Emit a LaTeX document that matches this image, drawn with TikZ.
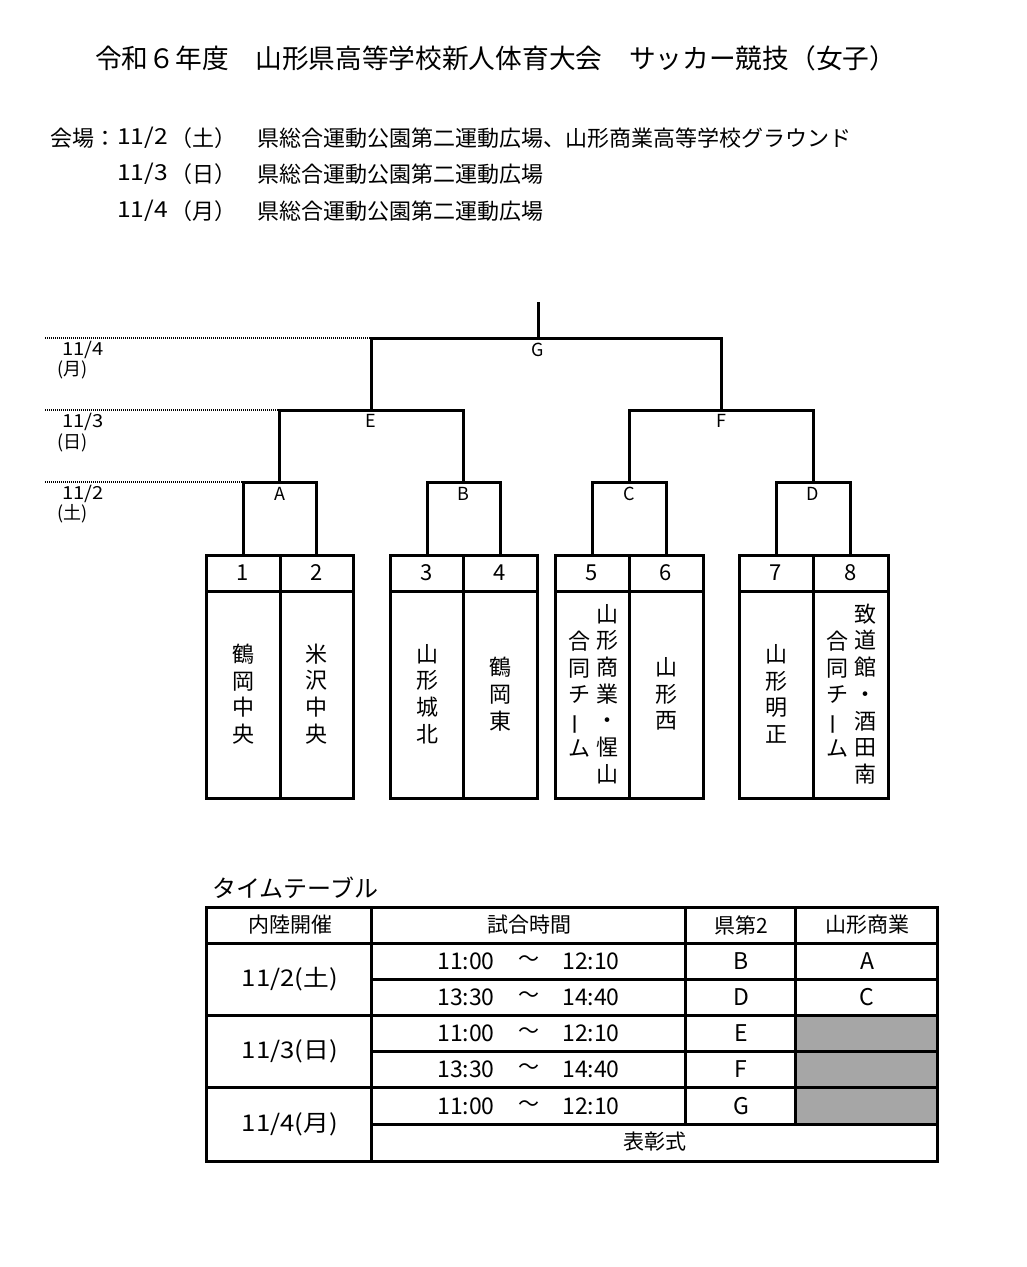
\documentclass[tikz,border=0pt]{standalone}
\usepackage{fontspec}
\usepackage{graphicx}
\setmainfont{Noto Sans CJK JP}
\definecolor{cellgray}{RGB}{166,166,166}
\newcommand{\vchoon}{\rotatebox[origin=c]{90}{ー}}
\newcommand{\wx}[1]{\scalebox{1.12}[1]{#1}}
\begin{document}
\begin{tikzpicture}[x=1pt,y=-1pt,
  br/.style={line width=3pt,line join=miter},
  dots/.style={line width=2pt,dash pattern=on 1pt off 1pt},
  tbl/.style={line width=3pt},
  lbl/.style={font=\fontsize{18}{18}\selectfont,inner sep=0},
  num/.style={font=\fontsize{22}{22}\selectfont,inner sep=0},
  vtext/.style={align=center,font=\fontsize{22}{26.7}\selectfont,inner sep=0},
  ttxt/.style={font=\fontsize{21}{21}\selectfont,inner sep=0},
  tdig/.style={font=\fontsize{23}{23}\selectfont,inner sep=0},
  head/.style={font=\fontsize{22}{22}\selectfont,inner sep=0,anchor=west},
]
\useasboundingbox[fill=white] (0,0) rectangle (1027,1267);

% title and venue
\node[anchor=west,inner sep=0,font=\fontsize{26.7}{26.7}\selectfont] (title) at (95,58) {令和６年度　山形県高等学校新人体育大会　サッカー競技（女子）};
\node[head] (v1a) at (50,138) {会場：};
\node[head] (v1d) at (117,138) {\wx{11/2}};
\node[head] (v1w) at (170,138) {（土）};
\node[head] (v1b) at (257,138) {県総合運動公園第二運動広場、山形商業高等学校グラウンド};
\node[head] (v2d) at (117,174) {\wx{11/3}};
\node[head] (v2w) at (170,174) {（日）};
\node[head] (v2b) at (257,174) {県総合運動公園第二運動広場};
\node[head] (v3d) at (117,211) {\wx{11/4}};
\node[head] (v3w) at (170,211) {（月）};
\node[head] (v3b) at (257,211) {県総合運動公園第二運動広場};

% bracket coordinates
\coordinate (top) at (538,302);
\coordinate (G) at (538,338);
\coordinate (Gl) at (371,338);
\coordinate (Gr) at (721,338);
\coordinate (E) at (371,410);
\coordinate (El) at (279,410);
\coordinate (Er) at (463,410);
\coordinate (F) at (721,410);
\coordinate (Fl) at (629,410);
\coordinate (Fr) at (813,410);
\coordinate (A) at (279,482);
\coordinate (Al) at (243,482);
\coordinate (Ar) at (316,482);
\coordinate (B) at (463,482);
\coordinate (Bl) at (427,482);
\coordinate (Br) at (500,482);
\coordinate (C) at (629,482);
\coordinate (Cl) at (592,482);
\coordinate (Cr) at (666,482);
\coordinate (D) at (813,482);
\coordinate (Dl) at (776,482);
\coordinate (Dr) at (850,482);
\coordinate (Alb) at (243,555);
\coordinate (Arb) at (316,555);
\coordinate (Blb) at (427,555);
\coordinate (Brb) at (500,555);
\coordinate (Clb) at (592,555);
\coordinate (Crb) at (666,555);
\coordinate (Dlb) at (776,555);
\coordinate (Drb) at (850,555);
\coordinate (dl4) at (45,338);
\coordinate (dl3) at (45,410);
\coordinate (dl2) at (45,482);

% dotted day lines
\draw[dots] (dl4) -- (Gl);
\draw[dots] (dl3) -- (El);
\draw[dots] (dl2) -- (Al);

% bracket lines
\draw[br] (top) -- (G);
\draw[br] (E) -- (Gl) -- (Gr) -- (F);
\draw[br] (A) -- (El) -- (Er) -- (B);
\draw[br] (C) -- (Fl) -- (Fr) -- (D);
\draw[br] (Alb) -- (Al) -- (Ar) -- (Arb);
\draw[br] (Blb) -- (Bl) -- (Br) -- (Brb);
\draw[br] (Clb) -- (Cl) -- (Cr) -- (Crb);
\draw[br] (Dlb) -- (Dl) -- (Dr) -- (Drb);

% match labels
\node[lbl] (mG) at (538,350) {G};
\node[lbl] (mE) at (371,421) {E};
\node[lbl] (mF) at (721,421) {F};
\node[lbl] (mA) at (280,494) {A};
\node[lbl] (mB) at (463,494) {B};
\node[lbl] (mC) at (629,494) {C};
\node[lbl] (mD) at (813,494) {D};

% day labels
\node[lbl,anchor=west] (d4a) at (62,350) {\wx{11/4}};
\node[lbl,anchor=west] (d4b) at (57,370) {(月)};
\node[lbl,anchor=west] (d3a) at (62,422) {\wx{11/3}};
\node[lbl,anchor=west] (d3b) at (57,443) {(日)};
\node[lbl,anchor=west] (d2a) at (62,494) {\wx{11/2}};
\node[lbl,anchor=west] (d2b) at (57,514) {(土)};

% team cells
\foreach \l/\r/\n in {206/280/1,280/353/2,390/463/3,463/537/4,555/629/5,629/703/6,739/813/7,813/888/8}{
  \draw[br] (\l,555) rectangle (\r,798);
  \draw[br] (\l,591) -- (\r,591);
  \node[num] (num\n) at ({(\l+\r)/2},573) {\n};
}
\node[vtext] (team1) at (243,694) {鶴\\岡\\中\\央};
\node[vtext] (team2) at (316.5,694) {米\\沢\\中\\央};
\node[vtext] (team3) at (427,694) {山\\形\\城\\北};
\node[vtext] (team4) at (500,694) {鶴\\岡\\東};
\node[vtext] (team5a) at (607,694) {山\\形\\商\\業\\・\\惺\\山};
\node[vtext] (team5b) at (579,694) {合\\同\\チ\\\vchoon\\ム};
\node[vtext] (team6) at (666,694) {山\\形\\西};
\node[vtext] (team7) at (776,694) {山\\形\\明\\正};
\node[vtext] (team8a) at (865,694) {致\\道\\館\\・\\酒\\田\\南};
\node[vtext] (team8b) at (837,694) {合\\同\\チ\\\vchoon\\ム};

% time table
\node[inner sep=0,anchor=west,font=\fontsize{24}{24}\selectfont] (ttitle) at (212,888) {タイムテーブル};
\fill[cellgray] (795,1015) rectangle (937,1124);
\draw[tbl] (206,907) rectangle (937,1161);
\foreach \y in {943,1015,1087} \draw[tbl] (206,\y) -- (937,\y);
\foreach \y in {979,1051,1124} \draw[tbl] (371,\y) -- (937,\y);
\draw[tbl] (371,907) -- (371,1161);
\draw[tbl] (685,907) -- (685,1124);
\draw[tbl] (795,907) -- (795,1124);

\node[ttxt] (h1) at (290,925) {内陸開催};
\node[ttxt] (h2) at (529,925) {試合時間};
\node[ttxt] (h3) at (741,925) {県第2};
\node[ttxt] (h4) at (867,925) {山形商業};

\node[tdig] (day2) at (290,979) {\wx{11/2(土)}};
\node[tdig] (day3) at (290,1051) {\wx{11/3(日)}};
\node[tdig] (day4) at (290,1124) {\wx{11/4(月)}};

\foreach \y/\s/\t/\k in {961/11:00/12:10/1,997/13:30/14:40/2,1033/11:00/12:10/3,1069/13:30/14:40/4,1106/11:00/12:10/5}{
  \node[tdig] (ts\k) at (466,\y) {\s};
  \node[ttxt] (tt\k) at (529,\y) {～};
  \node[tdig] (te\k) at (591,\y) {\t};
}
\node[tdig] (k1) at (741,961) {B};
\node[tdig] (k2) at (741,997) {D};
\node[tdig] (k3) at (741,1033) {E};
\node[tdig] (k4) at (741,1069) {F};
\node[tdig] (k5) at (741,1106) {G};
\node[tdig] (y1) at (867,961) {A};
\node[tdig] (y2) at (867,997) {C};
\node[ttxt] (ceremony) at (655,1142) {表彰式};
\end{tikzpicture}
\end{document}
